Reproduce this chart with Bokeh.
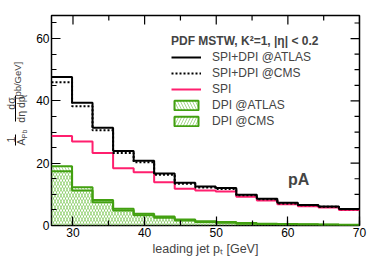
import math
from bokeh.plotting import figure
from bokeh.layouts import row
from bokeh.models import (Range1d, SingleIntervalTicker, Legend, LegendItem, Label, Title)
from bokeh.embed import file_html
from bokeh.resources import INLINE

# ---- data ----
bin_edges = [27.0, 29.87, 32.73, 35.6, 38.47, 41.33, 44.2, 47.07, 49.93,
             52.8, 55.67, 58.53, 61.4, 64.27, 67.13, 70.0]
spi_dpi_atlas = [47.7, 39.4, 31.4, 23.9, 20.8, 16.7, 13.7, 12.5, 12.0, 9.9, 8.6, 7.3, 6.6, 6.1, 5.3]
spi_dpi_cms = [46.0, 38.3, 30.6, 23.3, 20.3, 16.3, 13.4, 12.2, 11.7, 9.7, 8.4, 7.1, 6.5, 6.0, 5.2]
spi = [28.7, 27.0, 23.3, 18.4, 17.1, 13.9, 11.8, 11.2, 10.9, 9.2, 8.0, 6.8, 6.2, 5.8, 5.0]
dpi_atlas = [19.0, 12.3, 8.2, 5.4, 3.8, 2.9, 1.9, 1.4, 1.1, 0.8, 0.6, 0.5, 0.4, 0.3, 0.25]
dpi_cms = [17.4, 11.2, 7.5, 4.8, 3.3, 2.5, 1.6, 1.1, 0.9, 0.6, 0.5, 0.4, 0.3, 0.25, 0.2]

x_major = [30, 40, 50, 60, 70]
x_minor = [35, 45, 55, 65]
y_major = [0, 20, 40, 60]
y_minor = [5, 10, 15, 25, 30, 35, 45, 50, 55, 65]

X0, X1, Y0, Y1 = 27, 70, 0, 67.4

FONT = "Liberation Sans"
BLACK = "black"
PINK = "#ff1f6e"
GREEN = "#42a010"
HATCH = "#80c85a"

LEFT_W = 33  # width of the strip holding the y title
H = 259
TOP, BOTTOM = 15, 34

yr = Range1d(Y0, Y1)
p = figure(width=382 - LEFT_W, height=H, output_backend="svg", toolbar_location=None,
           x_range=Range1d(X0, X1), y_range=yr,
           min_border_left=49 - LEFT_W, min_border_right=23, min_border_top=TOP,
           min_border_bottom=BOTTOM)
p.xgrid.visible = False
p.ygrid.visible = False
p.outline_line_color = "black"
p.outline_line_width = 1.5
p.border_fill_color = "white"

for ax in (p.xaxis[0], p.yaxis[0]):
    ax.axis_line_color = None
    ax.major_tick_in = 9
    ax.major_tick_out = 0
    ax.minor_tick_in = 5
    ax.minor_tick_out = 0
    ax.major_tick_line_width = 1.2
    ax.minor_tick_line_width = 1.2
    ax.major_label_text_font = FONT
    ax.major_label_text_font_size = "12px"
    ax.major_label_text_color = "black"
    ax.major_label_standoff = 2
p.xaxis.ticker = SingleIntervalTicker(interval=10, num_minor_ticks=2)
p.yaxis.ticker = SingleIntervalTicker(interval=20, num_minor_ticks=4)

# x title
p.add_layout(Title(text="leading jet p\u209c [GeV]", text_font=FONT, text_font_style="normal",
                   text_font_size="12.5px", align="center", offset=12, standoff=0), "below")

# mirrored ticks on top and right (inside the frame)
tx_len_major = 9 / 7.21
tx_len_minor = 5 / 7.21
ty_len_major = 9 / 3.115
ty_len_minor = 5 / 3.115
p.segment(x0=x_major, x1=x_major, y0=[Y1] * len(x_major), y1=[Y1 - ty_len_major] * len(x_major),
          line_color="black", line_width=1.2)
p.segment(x0=x_minor, x1=x_minor, y0=[Y1] * len(x_minor), y1=[Y1 - ty_len_minor] * len(x_minor),
          line_color="black", line_width=1.2)
p.segment(x0=[X1] * len(y_major), x1=[X1 - tx_len_major] * len(y_major), y0=y_major, y1=y_major,
          line_color="black", line_width=1.2)
p.segment(x0=[X1] * len(y_minor), x1=[X1 - tx_len_minor] * len(y_minor), y0=y_minor, y1=y_minor,
          line_color="black", line_width=1.2)

# ---- hatched DPI fills ----
lefts = bin_edges[:-1]
rights = bin_edges[1:]
zeros = [0] * len(lefts)
p.quad(left=lefts, right=rights, bottom=zeros, top=dpi_atlas, fill_alpha=0, line_color=None,
       hatch_pattern="\\", hatch_color=HATCH, hatch_scale=6, hatch_weight=0.7)
p.quad(left=lefts, right=rights, bottom=zeros, top=dpi_cms, fill_alpha=0, line_color=None,
       hatch_pattern="/", hatch_color=HATCH, hatch_scale=6, hatch_weight=0.7)

def ext(v):
    return list(v) + [v[-1]]

p.step(bin_edges, ext(dpi_cms), mode="after", line_color=GREEN, line_width=2)
p.step(bin_edges, ext(dpi_atlas), mode="after", line_color=GREEN, line_width=2)
r_spi = p.step(bin_edges, ext(spi), mode="after", line_color=PINK, line_width=2)
r_atl = p.step(bin_edges, ext(spi_dpi_atlas), mode="after", line_color=BLACK, line_width=2)
r_cms = p.step(bin_edges, ext(spi_dpi_cms), mode="after", line_color=BLACK, line_width=2,
               line_dash="2 2")

# legend-only boxes (no visible data)
nan = float("nan")
d_atl = p.quad(left=[nan], right=[nan], top=[nan], bottom=[nan], fill_alpha=0, line_color=GREEN,
               line_width=2, hatch_pattern="\\", hatch_color=HATCH, hatch_scale=6, hatch_weight=0.7)
d_cms = p.quad(left=[nan], right=[nan], top=[nan], bottom=[nan], fill_alpha=0, line_color=GREEN,
               line_width=2, hatch_pattern="/", hatch_color=HATCH, hatch_scale=6, hatch_weight=0.7)

legend = Legend(items=[
    LegendItem(label="SPI+DPI @ATLAS", renderers=[r_atl]),
    LegendItem(label="SPI+DPI @CMS", renderers=[r_cms]),
    LegendItem(label="SPI", renderers=[r_spi]),
    LegendItem(label="DPI @ATLAS", renderers=[d_atl]),
    LegendItem(label="DPI @CMS", renderers=[d_cms]),
], location=(120, 97))
legend.title = "PDF MSTW, K\u00b2=1, |\u03b7| < 0.2"
legend.title_text_font = FONT
legend.title_text_font_style = "bold"
legend.title_text_font_size = "12px"
legend.title_standoff = 2
legend.label_text_font = FONT
legend.label_text_font_size = "12px"
legend.glyph_width = 30
legend.glyph_height = 12
legend.label_height = 14
legend.spacing = 2
legend.label_standoff = 11
legend.padding = 0
legend.margin = 0
legend.border_line_color = None
legend.background_fill_alpha = 0
p.add_layout(legend)

# pA annotation
p.add_layout(Label(x=61.5, y=14.8, text="pA", text_font=FONT, text_font_style="bold",
                   text_font_size="16px", text_align="center", text_baseline="middle"))

# ---- y title in a narrow strip sharing the main plot's vertical layout ----
q = figure(width=LEFT_W, height=H, output_backend="svg", toolbar_location=None,
           x_range=Range1d(0, LEFT_W), y_range=yr,
           min_border_left=0, min_border_right=0, min_border_top=TOP, min_border_bottom=BOTTOM,
           x_axis_type=None, y_axis_type=None)
q.xgrid.visible = False
q.ygrid.visible = False
q.outline_line_color = None
q.border_fill_color = "white"
q.background_fill_color = "white"

PX_PER_Y = (H - TOP - BOTTOM) / (Y1 - Y0)

def yv(y_px):
    # page pixel row -> value on the shared y range
    return Y0 + (H - BOTTOM - y_px) / PX_PER_Y

def lab(x, y_px, text, size):
    q.add_layout(Label(x=x, y=yv(y_px), text=text, text_font=FONT, text_font_size=size,
                       angle=math.pi / 2, text_align="center", text_baseline="middle"))

lab(16.5, 80, "[pb/GeV]", "9.5px")
lab(10, 103, "d\u03c3", "10.5px")
lab(20, 109, "d\u03b7 dp", "10.5px")
lab(23.5, 95.5, "t", "7px")
lab(10, 139, "1", "10.5px")
lab(20, 141.5, "A", "10.5px")
lab(24, 133.5, "Pb", "7px")
q.segment(x0=[15, 15], y0=[yv(95), yv(134)], x1=[15, 15], y1=[yv(121), yv(145)],
          line_color="black", line_width=1)

layout = row(q, p, spacing=0)
open("out.html", "w").write(file_html(layout, INLINE))
